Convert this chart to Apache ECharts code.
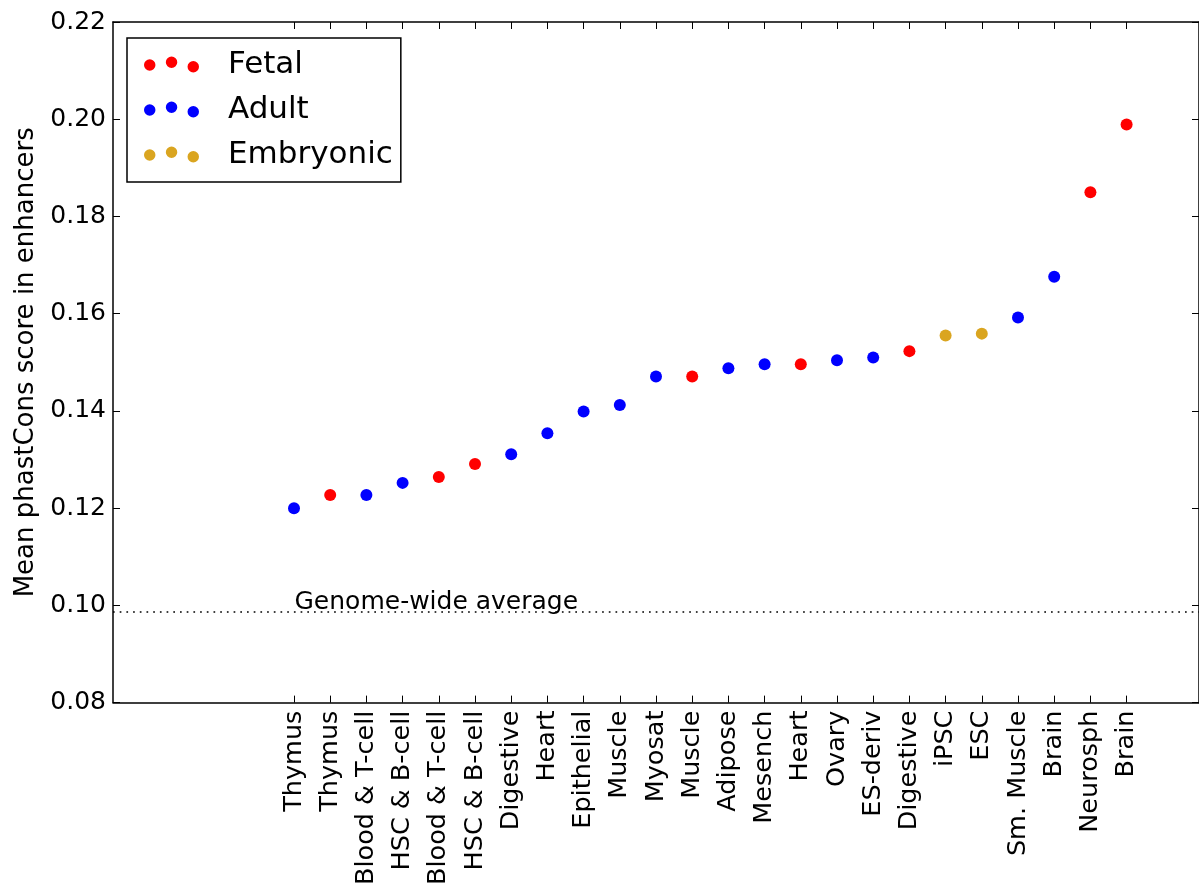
<!DOCTYPE html>
<html>
<head>
<meta charset="utf-8">
<script src="https://cdn.jsdelivr.net/npm/echarts@6/dist/echarts.min.js"></script>
<style>
html,body{margin:0;padding:0;background:#fff;}
#chart{width:1199px;height:888px;}
</style>
</head>
<body>
<div id="chart"></div>
<script>
// ---- data ----
const tissues = ['Thymus','Thymus','Blood & T-cell','HSC & B-cell','Blood & T-cell','HSC & B-cell','Digestive','Heart','Epithelial','Muscle','Myosat','Muscle','Adipose','Mesench','Heart','Ovary','ES-deriv','Digestive','iPSC','ESC','Sm. Muscle','Brain','Neurosph','Brain'];
const stages = ['Adult','Fetal','Adult','Adult','Fetal','Fetal','Adult','Adult','Adult','Adult','Adult','Fetal','Adult','Adult','Fetal','Adult','Adult','Fetal','Embryonic','Embryonic','Adult','Adult','Fetal','Fetal'];
const phastCons = [0.1200,0.1227,0.1227,0.1252,0.1264,0.1291,0.1311,0.1354,0.1399,0.1412,0.1471,0.1471,0.1488,0.1496,0.1496,0.1504,0.1510,0.1523,0.1555,0.1559,0.1592,0.1676,0.1850,0.1989];
const genomeAverage = 0.0986;
const genomeLabelY = 0.10;
const yTicks = [0.08,0.10,0.12,0.14,0.16,0.18,0.20,0.22];
const stageNames = ['Fetal','Adult','Embryonic'];
const stageColors = {Fetal:'#ff0000', Adult:'#0000ff', Embryonic:'#daa520'};

// x positions run from -5 to 25 (axis padding slots)
const padLeft = 5, padRight = 2;
const axisCats = [];
for (let i = 0; i < padLeft; i++) axisCats.push('');
tissues.forEach(t => axisCats.push(t));
for (let i = 0; i < padRight; i++) axisCats.push('');

const FONT = 'DejaVu Sans';
const threeDots = 'path://M0,8.4a5.7,5.7 0 1,0 11.4,0a5.7,5.7 0 1,0 -11.4,0z' +
  'M21.7,5.7a5.7,5.7 0 1,0 11.4,0a5.7,5.7 0 1,0 -11.4,0z' +
  'M43.3,10.1a5.7,5.7 0 1,0 11.4,0a5.7,5.7 0 1,0 -11.4,0z';

const series = stageNames.map(s => ({
  name: s,
  type: 'scatter',
  xAxisIndex: 0, yAxisIndex: 0,
  symbol: 'circle',
  symbolSize: 12,
  itemStyle: {color: stageColors[s], opacity: 1},
  data: phastCons.map((v, i) => stages[i] === s ? [i + padLeft, v] : null).filter(d => d),
  z: 5
}));
// genome-wide average reference line + label attached to the Adult series
series[1].markLine = {
  silent: true,
  animation: false,
  precision: 4,
  symbol: ['none','none'],
  label: {show: false},
  lineStyle: {color: '#000', width: 1.7, type: [1.7, 5]},
  data: [{yAxis: genomeAverage}]
};
series[1].markPoint = {
  silent: true,
  symbol: 'circle',
  symbolSize: 1,
  itemStyle: {color: 'rgba(0,0,0,0)'},
  label: {show: true, position: 'right', distance: 0, offset: [0, -3],
    formatter: 'Genome-wide average', color: '#000', fontFamily: FONT, fontSize: 25},
  data: [{coord: [padLeft, genomeLabelY]}]
};

const chart = echarts.init(document.getElementById('chart'), null, {renderer: 'canvas'});
const axisLineStyle = {color: '#000', width: 1.5};
const tickFilter = (idx) => idx >= padLeft && idx < padLeft + tissues.length;
chart.setOption({
  animation: false,
  backgroundColor: '#fff',
  grid: {left: 113, right: -5, top: 22, bottom: 184},
  legend: {
    data: stageNames,
    orient: 'vertical',
    left: 127, top: 38,
    padding: [11, 8, 12, 17],
    borderColor: '#000', borderWidth: 1.5,
    icon: threeDots,
    itemWidth: 55, itemHeight: 16,
    itemGap: 14,
    textStyle: {fontFamily: FONT, fontSize: 31, color: '#000', lineHeight: 30, padding: [0, 0, 0, 24]}
  },
  xAxis: [{
    type: 'category',
    data: axisCats,
    boundaryGap: false,
    position: 'bottom',
    axisLine: {show: true, lineStyle: axisLineStyle},
    axisTick: {show: true, inside: true, length: 7, interval: tickFilter, lineStyle: {color: '#000', width: 1}},
    axisLabel: {interval: 0, rotate: 90, margin: 8, fontFamily: FONT, fontSize: 25.5, color: '#000'},
    splitLine: {show: false}
  }, {
    type: 'category',
    data: axisCats,
    boundaryGap: false,
    position: 'top',
    axisLine: {show: true, lineStyle: axisLineStyle},
    axisTick: {show: true, inside: true, length: 7, interval: tickFilter, lineStyle: {color: '#000', width: 1}},
    axisLabel: {show: false},
    splitLine: {show: false}
  }],
  yAxis: [{
    type: 'value',
    min: yTicks[0], max: yTicks[yTicks.length - 1], interval: 0.02,
    position: 'left',
    name: 'Mean phastCons score in enhancers',
    nameLocation: 'middle', nameRotate: 90, nameGap: 74,
    nameTextStyle: {fontFamily: FONT, fontSize: 26, color: '#000'},
    axisLine: {show: true, lineStyle: axisLineStyle},
    axisTick: {show: true, inside: true, length: 7, lineStyle: {color: '#000', width: 1}},
    axisLabel: {margin: 7, fontFamily: FONT, fontSize: 25, color: '#000', formatter: v => v.toFixed(2)},
    splitLine: {show: false}
  }, {
    type: 'value',
    min: yTicks[0], max: yTicks[yTicks.length - 1], interval: 0.02,
    position: 'right',
    axisLine: {show: true, lineStyle: axisLineStyle},
    axisTick: {show: true, inside: true, length: 7, lineStyle: {color: '#000', width: 1}},
    axisLabel: {show: false},
    splitLine: {show: false}
  }],
  series: series
});
</script>
</body>
</html>
